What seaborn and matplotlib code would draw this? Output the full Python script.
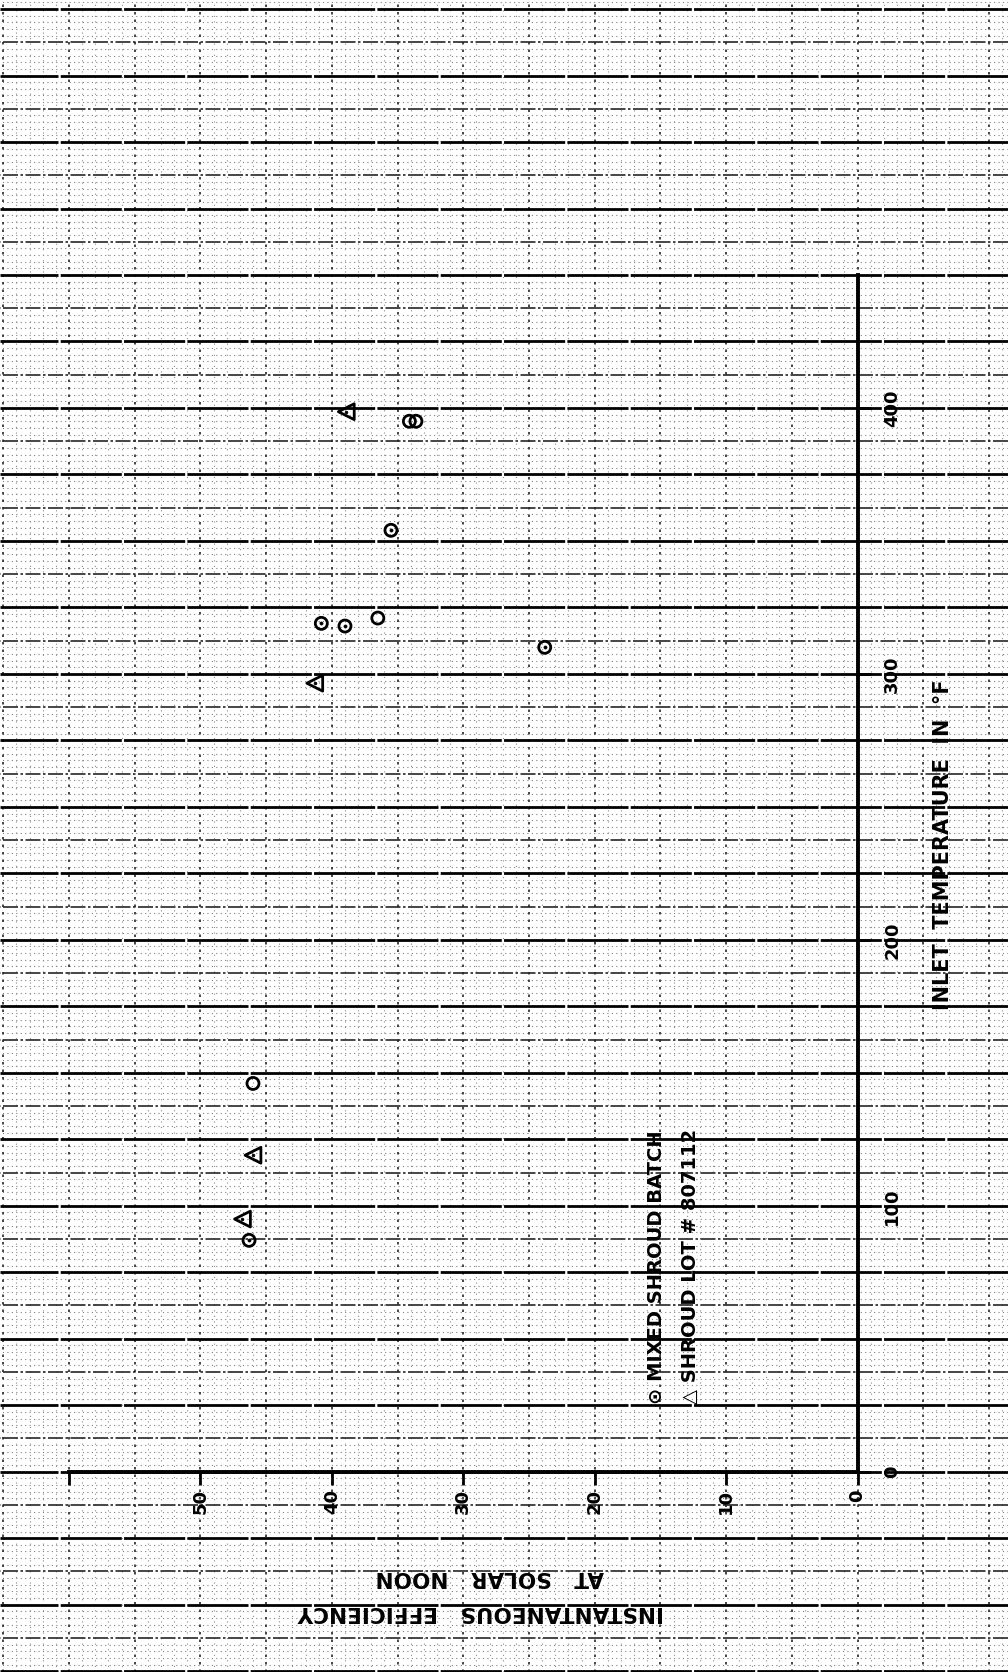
import numpy as np
import pandas as pd
import matplotlib
matplotlib.use("Agg")
import matplotlib.pyplot as plt
import seaborn as sns

# ---------------- data ----------------
# Mixed shroud batch (circles)
mixed_eff = [46.0, 46.3, 35.5, 40.8, 39.0, 36.5, 23.8, 34.1, 33.6]
mixed_temp = [146, 87, 354, 319, 318, 321, 310, 395, 395]
mixed_dot = [False, True, True, True, True, False, True, False, False]
# Shroud lot # 807112 (triangles)
lot_eff = [46.0, 46.8, 41.3, 38.9]
lot_temp = [119, 95, 296.5, 398.6]

temp_ticks = [0, 100, 200, 300, 400]
temp_labels = ["0", "100", "200", "300", "400"]
eff_ticks = [0, 10, 20, 30, 40, 50, 60]
eff_labels = ["0", "10", "20", "30", "40", "50", ""]

eff_range = (60, 0)
temp_range = (0, 450)

# ---------------- layout ----------------
W, H, DPI = 1008, 1672, 100
sns.set_style("white")
plt.rcParams["font.family"] = ["DejaVu Sans"]

fig = plt.figure(figsize=(W / DPI, H / DPI), dpi=DPI)
fig.patch.set_facecolor("white")

ax_l, ax_r, ax_t, ax_b = 69.0, 857.5, 275.0, 1471.7  # pixel box of the plot
kx = (ax_r - ax_l) / (eff_range[0] - eff_range[1])
ky = (ax_b - ax_t) / (temp_range[1] - temp_range[0])

# background graph paper axes (same data scale, full figure)
bg = fig.add_axes([0, 0, 1, 1], zorder=0)
bx0 = eff_range[0] + ax_l / kx
bx1 = eff_range[1] - (W - ax_r) / kx
by0 = temp_range[0] - (H - ax_b) / ky
by1 = temp_range[1] + ax_t / ky
bg.set_xlim(bx0, bx1)
bg.set_ylim(by0, by1)
bg.axis("off")

# fine dotted rows / columns
fine_t = np.arange(-75, 555, 2.5)
fine_t = fine_t[(fine_t % 12.5) != 0]
bg.hlines(fine_t, bx1, bx0, colors="0.5", lw=0.8, linestyles=(0, (1, 3)))
fine_e = np.arange(-11, 66, 1.0)
fine_e = fine_e[(fine_e % 5) != 0]
bg.vlines(fine_e, by0, by1, colors="0.55", lw=0.8, linestyles=(0, (1, 4)))
# major dotted columns
bg.vlines(np.arange(-10, 66, 5), by0, by1, colors="0.15", lw=1.2, linestyles=(0, (1.5, 3)))
# medium dashed rows
bg.hlines(np.arange(-62.5, 555, 25), bx1, bx0, colors="0.15", lw=1.2, linestyles=(0, (9, 1.5, 1.5, 1.5)))
# major rows (nearly solid, small breaks)
bg.hlines(np.arange(-75, 555, 25), bx1, bx0, colors="black", lw=2.0, linestyles=(0, (22, 0.8)))

# main plot axes
ax = fig.add_axes([ax_l / W, (H - ax_b) / H, (ax_r - ax_l) / W, (ax_b - ax_t) / H], zorder=2)
ax.patch.set_alpha(0)

df_m = pd.DataFrame({"eff": mixed_eff, "temp": mixed_temp, "dot": mixed_dot})
df_l = pd.DataFrame({"eff": lot_eff, "temp": lot_temp})

sns.scatterplot(data=df_m, x="eff", y="temp", marker="o", s=75, facecolors="none",
                edgecolor="black", linewidth=2.0, ax=ax, legend=False, zorder=5)
sns.scatterplot(data=df_m[df_m["dot"]], x="eff", y="temp", marker="o", s=5, color="black",
                edgecolor="black", linewidth=0.5, ax=ax, legend=False, zorder=6)
sns.scatterplot(data=df_l, x="eff", y="temp", marker="<", s=130, facecolors="none",
                edgecolor="black", linewidth=2.0, ax=ax, legend=False, zorder=5)
sns.scatterplot(data=df_l, x="eff", y="temp", marker="o", s=4, color="black",
                edgecolor="black", linewidth=0.5, ax=ax, legend=False, zorder=6)

ax.set_xlim(*eff_range)
ax.set_ylim(*temp_range)
ax.set_xlabel("")
ax.set_ylabel("")

for side in ["left", "top"]:
    ax.spines[side].set_visible(False)
for side in ["right", "bottom"]:
    ax.spines[side].set_visible(True)
    ax.spines[side].set_linewidth(2.8)
    ax.spines[side].set_color("black")

ax.yaxis.tick_right()
ax.set_xticks(eff_ticks)
ax.set_xticklabels(eff_labels, rotation=90, fontsize=13, fontweight="bold")
ax.set_yticks(temp_ticks)
ax.set_yticklabels(temp_labels, rotation=90, fontsize=13, fontweight="bold", va="center")
ax.tick_params(axis="x", direction="out", length=9.5, width=2.0, pad=3, colors="black",
               bottom=True)
ax.tick_params(axis="y", direction="out", length=9.5, width=2.0, pad=9, colors="black",
               right=True, left=False)
ax.grid(False)

# ---------------- texts ----------------
def px(x, y):
    return x / W, 1 - y / H

txt = dict(color="black", zorder=10, fontweight="bold", rotation_mode="anchor")
fig.text(*px(657, 1404), "\u2299 MIXED SHROUD BATCH", rotation=90, ha="left", va="center",
         fontsize=14, **txt)
fig.text(*px(690, 1404), "\u25B3 SHROUD LOT # 807112", rotation=90, ha="left", va="center",
         fontsize=14, **txt)

fig.text(*px(943, 1010), "INLET  TEMPERATURE  IN  \u00B0F", rotation=90, ha="left", va="center",
         fontsize=15, **txt)

fig.text(*px(481, 1612), "INSTANTANEOUS   EFFICIENCY", rotation=180, ha="center", va="center",
         fontsize=15.5, **txt)
fig.text(*px(490, 1577), "AT   SOLAR   NOON", rotation=180, ha="center", va="center",
         fontsize=15.5, **txt)

fig.savefig("out.png", dpi=DPI, facecolor="white")
